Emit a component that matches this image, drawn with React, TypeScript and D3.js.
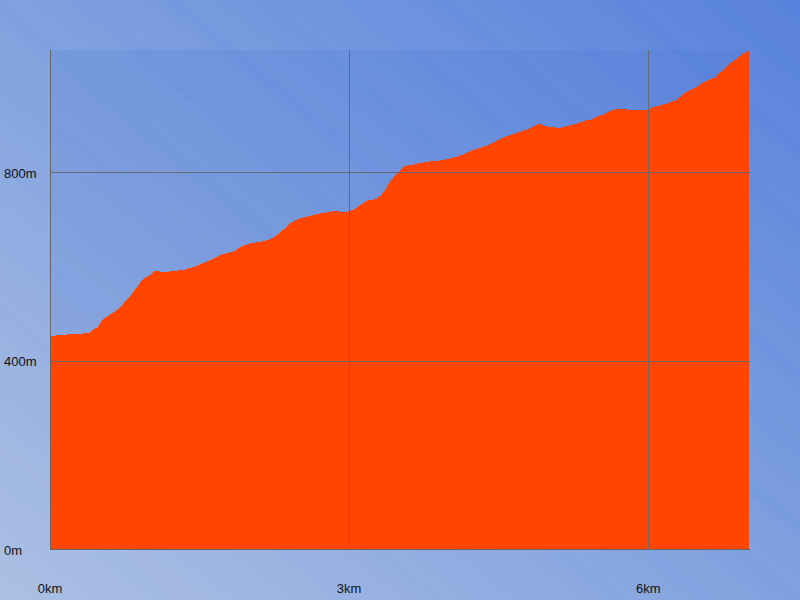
import React from "react";
import * as d3 from "d3";

const distanceKm = [
  0.0, 0.12, 0.2, 0.4, 0.42, 0.48, 0.52, 0.55, 0.63, 0.7, 0.75, 0.8, 0.85, 0.9, 0.95, 1.0,
  1.05, 1.15, 1.25, 1.35, 1.45, 1.61, 1.71, 1.81, 1.86, 1.91, 2.01, 2.11, 2.19, 2.26, 2.31,
  2.36, 2.39, 2.44, 2.53, 2.61, 2.71, 2.85, 2.97, 3.06, 3.11, 3.2, 3.27, 3.32, 3.36, 3.41,
  3.48, 3.56, 3.63, 3.69, 3.79, 3.93, 4.08, 4.19, 4.29, 4.39, 4.5, 4.58, 4.67, 4.79, 4.91,
  5.0, 5.12, 5.27, 5.37, 5.44, 5.53, 5.63, 5.71, 5.87, 5.99, 6.05, 6.17, 6.28, 6.37, 6.46,
  6.56, 6.68, 6.8, 6.91, 7.01,
];
const elevationM = [
  452, 454, 456, 458, 465, 470, 486, 490, 501, 511, 524, 535, 550, 564, 575, 581,
  590, 588, 590, 593, 599, 613, 624, 630, 633, 641, 649, 652, 656, 663, 673,
  680, 687, 696, 703, 707, 712, 717, 715, 721, 730, 741, 742, 751, 762, 779,
  798, 813, 815, 818, 822, 825, 832, 842, 850, 857, 869, 876, 882, 891, 903,
  895, 894, 902, 909, 912, 921, 931, 935, 931, 931, 938, 944, 953, 968, 977,
  991, 1002, 1027, 1045, 1058,
];
const xTicks = [0, 3, 6];
const yTicks = [0, 400, 800];

const W = 800;
const H = 600;
const M = { left: 50, top: 50, right: 51, bottom: 51 };

export default function App() {
  const x = d3.scaleLinear().domain([0, 7.01]).range([M.left, W - M.right]);
  const y = d3.scaleLinear().domain([0, 1059]).range([H - M.bottom, M.top]);
  const pts = distanceKm.map((d, i) => [d, elevationM[i]] as [number, number]);
  const area = d3
    .area<[number, number]>()
    .x((d) => x(d[0]))
    .y0(y(0))
    .y1((d) => y(d[1]))
    .curve(d3.curveLinear)(pts) as string;

  const stripes = d3.range(-6, 14);
  const gridColor = "#666";
  return (
    <svg
      width={W}
      height={H}
      style={{ position: "absolute", left: 0, top: 0, display: "block" }}
      fontFamily="'Liberation Sans', Arial, sans-serif"
    >
      <defs>
        <linearGradient id="bg" x1="0" y1="1" x2="1" y2="0">
          <stop offset="0" stopColor="#acc0e3" />
          <stop offset="0.5" stopColor="#7e9fdf" />
          <stop offset="1" stopColor="#5680dc" />
        </linearGradient>
        <clipPath id="all">
          <rect x={0} y={0} width={W} height={H} />
        </clipPath>
      </defs>
      <rect x={0} y={0} width={W} height={H} fill="url(#bg)" />
      <g clipPath="url(#all)">
        {stripes.map((i) => (
          <rect
            key={i}
            x={i * 90}
            y={-400}
            width={45}
            height={1600}
            fill="#ffffff"
            opacity={0.025}
            transform={`rotate(-50 ${i * 90} 0)`}
          />
        ))}
      </g>
      <rect
        x={M.left}
        y={M.top}
        width={W - M.left - M.right}
        height={H - M.top - M.bottom}
        fill="#4a76d6"
        opacity={0.18}
      />
      <path d={area} fill="#ff4500" shapeRendering="crispEdges" />
      {yTicks
        .filter((t) => t > 0)
        .map((t) => (
          <line
            key={"hy" + t}
            x1={M.left}
            x2={W - M.right + 1}
            y1={Math.round(y(t)) + 0.5}
            y2={Math.round(y(t)) + 0.5}
            stroke={gridColor}
            strokeOpacity={0.9}
          />
        ))}
      {xTicks
        .filter((t) => t > 0)
        .map((t) => (
          <line
            key={"vx" + t}
            x1={Math.floor(x(t)) + 0.5}
            x2={Math.floor(x(t)) + 0.5}
            y1={M.top}
            y2={y(0)}
            stroke={gridColor}
            strokeOpacity={0.9}
          />
        ))}
      <line x1={M.left + 0.5} x2={M.left + 0.5} y1={M.top} y2={y(0) + 1} stroke={gridColor} />
      <line
        x1={M.left}
        x2={W - M.right + 1}
        y1={Math.round(y(0)) + 0.5}
        y2={Math.round(y(0)) + 0.5}
        stroke={gridColor}
      />
      {yTicks.map((t) => (
        <text key={"ly" + t} x={4} y={y(t) + 5.5} fontSize={13} fill="#111">
          {t}m
        </text>
      ))}
      {xTicks.map((t) => (
        <text key={"lx" + t} x={x(t)} y={593} fontSize={13} fill="#111" textAnchor="middle">
          {t}km
        </text>
      ))}
    </svg>
  );
}
